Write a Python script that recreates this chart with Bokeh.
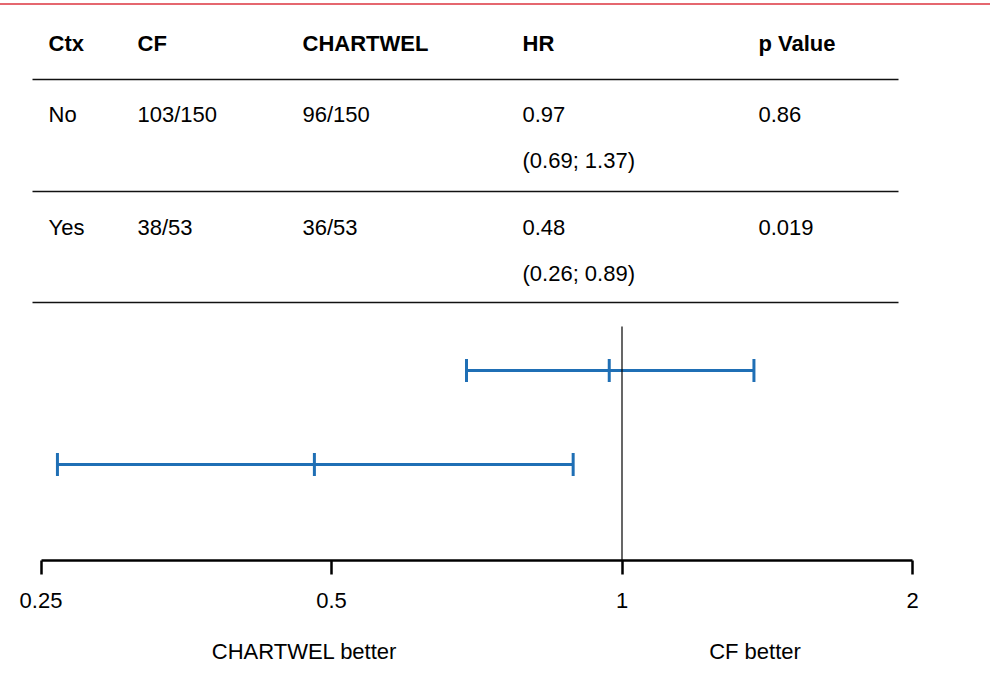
import math
from bokeh.plotting import figure
from bokeh.models import Range1d, LinearScale, LogAxis, FixedTicker, Div
from bokeh.core.properties import value
from bokeh.layouts import column
from bokeh.embed import file_html
from bokeh.resources import INLINE

# ---- data ----
headers = ["Ctx", "CF", "CHARTWEL", "HR", "p Value"]
ctx = ["No", "Yes"]
cf_events = ["103/150", "38/53"]
chartwel_events = ["96/150", "36/53"]
hr = [0.97, 0.48]
hr_lo = [0.69, 0.26]
hr_hi = [1.37, 0.89]
p_values = ["0.86", "0.019"]
axis_ticks = [0.25, 0.5, 1, 2]
axis_tick_labels = ["0.25", "0.5", "1", "2"]
side_labels = ["CHARTWEL better", "CF better"]

# ---- layout constants (page pixels) ----
W, H = 990, 676
FRAME_H = 560
PX_PER_LOG2 = 290.5
LEFT_LOG2 = -2 - 40.5 / PX_PER_LOG2
RIGHT_LOG2 = LEFT_LOG2 + W / PX_PER_LOG2
FONT = "Liberation Sans"
FS = "22px"
BLUE = "#1f6fb5"

p = figure(width=W, height=H, x_axis_type="log",
           x_range=Range1d(2 ** LEFT_LOG2, 2 ** RIGHT_LOG2),
           y_range=Range1d(FRAME_H, 0),
           output_backend="svg", toolbar_location=None,
           x_axis_location=None, y_axis_location=None,
           min_border_left=0, min_border_right=0, min_border_top=0,
           min_border_bottom=H - FRAME_H)
p.grid.visible = False
p.outline_line_color = None
p.background_fill_color = "white"
p.border_fill_color = "white"

p.extra_x_ranges = {"px": Range1d(0, W)}
p.extra_x_scales = {"px": LinearScale()}

# ---- table ----
col_x = [48, 137, 302, 522, 758]
header_y = 43
row_y = [114, 227]
ci_dy = 46
line_y = [79, 191, 302]

p.text(x=col_x, y=[header_y] * len(headers), text=headers, x_range_name="px",
       text_font=value(FONT), text_font_size=FS, text_font_style="bold",
       text_baseline="middle", text_align="left", text_color="black")

for i in range(len(ctx)):
    cells = [ctx[i], cf_events[i], chartwel_events[i], f"{hr[i]:.2f}", p_values[i]]
    p.text(x=col_x, y=[row_y[i]] * 5, text=cells, x_range_name="px",
           text_font=value(FONT), text_font_size=FS,
           text_baseline="middle", text_align="left", text_color="black")
    p.text(x=[col_x[3]], y=[row_y[i] + ci_dy],
           text=[f"({hr_lo[i]:.2f}; {hr_hi[i]:.2f})"], x_range_name="px",
           text_font=value(FONT), text_font_size=FS,
           text_baseline="middle", text_align="left", text_color="black")

p.segment(x0=[32] * 3, x1=[898] * 3, y0=line_y, y1=line_y, x_range_name="px",
          line_color="#111111", line_width=1.5)

# ---- forest ----
forest_y = [370, 464]
cap = 11.5
p.segment(x0=hr_lo, x1=hr_hi, y0=forest_y, y1=forest_y, line_color=BLUE, line_width=3)
for vals in (hr_lo, hr, hr_hi):
    p.segment(x0=vals, x1=vals, y0=[y - cap for y in forest_y], y1=[y + cap for y in forest_y],
              line_color=BLUE, line_width=3)

p.segment(x0=[1], x1=[1], y0=[326], y1=[FRAME_H], line_color="black", line_width=1.2)

# ---- axes ----
ax = LogAxis(ticker=FixedTicker(ticks=axis_ticks, minor_ticks=[]),
             major_label_overrides={t: l for t, l in zip(axis_ticks, axis_tick_labels)},
             bounds=(axis_ticks[0], axis_ticks[-1]))
ax.axis_line_width = 2.5
ax.axis_line_color = "black"
ax.major_tick_line_width = 2.5
ax.major_tick_line_color = "black"
ax.major_tick_out = 14
ax.major_tick_in = 0
ax.minor_tick_out = 0
ax.minor_tick_in = 0
ax.major_label_standoff = 18
ax.major_label_text_font = FONT
ax.major_label_text_font_size = FS
ax.major_label_text_color = "black"
p.add_layout(ax, "below")

side_pos = [2 ** (-2 + (304 - 40.5) / PX_PER_LOG2), 2 ** ((754 - 621) / PX_PER_LOG2)]
ax2 = LogAxis(ticker=FixedTicker(ticks=side_pos, minor_ticks=[]),
              major_label_overrides={t: l for t, l in zip(side_pos, side_labels)})
ax2.axis_line_color = None
ax2.major_tick_line_color = None
ax2.minor_tick_line_color = None
ax2.major_tick_out = 0
ax2.major_tick_in = 0
ax2.major_label_standoff = 28
ax2.major_label_text_font = FONT
ax2.major_label_text_font_size = FS
ax2.major_label_text_color = "black"
p.add_layout(ax2, "below")

red = Div(text='<div style="position:fixed;top:3px;left:0px;width:990px;height:2px;background:#e5676f"></div>',
          width=1, height=1)

layout = column(p, red)
open("out.html", "w").write(file_html(layout, INLINE))
